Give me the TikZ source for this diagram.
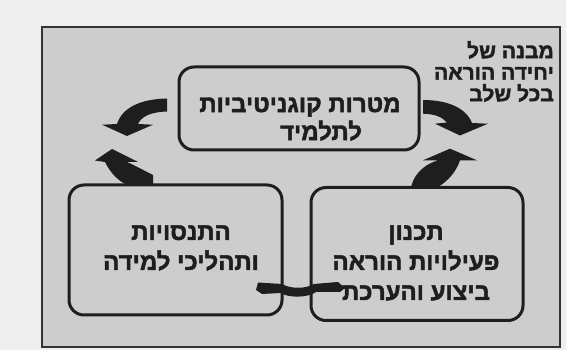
\documentclass[tikz,border=0pt]{standalone}
\usepackage{fontspec}
\newfontfamily\heb[Script=Hebrew, FakeBold=2]{Liberation Sans Bold}
\TeXXeTstate=1
\definecolor{pagebg}{HTML}{EEEEEE}
\definecolor{panelbg}{HTML}{CDCDCD}
\definecolor{ink}{HTML}{1E1E1E}
\definecolor{framecol}{HTML}{333333}
\tikzset{
  frame/.style={draw=framecol, line width=1.8pt, fill=panelbg, inner sep=0pt, outer sep=0pt},
  stagebox/.style={draw=ink, line width=3pt, rounded corners=15pt, inner sep=0pt, outer sep=0pt},
  stagetext/.style={text=ink, font=\heb\fontsize{24}{30}\selectfont, align=center, inner sep=0pt},
  notetext/.style={text=ink, font=\heb\fontsize{21}{21.5}\selectfont, align=right, inner sep=0pt},
  blockarrow/.style={fill=ink, draw=none},
}
\begin{document}
\begin{tikzpicture}[x=1pt,y=-1pt]
\fill[pagebg] (0,0) rectangle (566,350);
\useasboundingbox (0,0) rectangle (566,350);
\node[frame, minimum width=518pt, minimum height=320pt] (frame) at (301,187) {};
% stage boxes
\node[stagebox, minimum width=240pt, minimum height=83pt] (goals) at (299,108.5) {};
\node[stagebox, minimum width=213pt, minimum height=130pt] (learn) at (175.5,250) {};
\node[stagebox, minimum width=212pt, minimum height=133pt] (plan) at (417,254) {};
% texts
\node[stagetext, font=\heb\fontsize{24}{28}\selectfont] (goalsT) at (300,119) {\beginR מטרות קוגניטיביות\endR\\ \beginR לתלמיד\hspace{42pt}\endR};
\node[stagetext] (learnT) at (181,248) {\beginR התנסויות\endR\\ \beginR ותהליכי למידה\endR};
\node[stagetext] (planT) at (416,263) {\beginR תכנון\endR\\ \beginR פעילויות הוראה\endR\\ \beginR ביצוע והערכת\endR};
\node[notetext, anchor=east] (note) at (554,71.5) {\beginR מבנה של\endR\\ \beginR יחידה הוראה\endR\\ \beginR בכל שלב\endR};
% curved block arrows
\fill[blockarrow] (167,98.5) .. controls (140,99) and (122,108) .. (117,124) -- (102,124.7) -- (127,136) -- (153,124.7) -- (138,124) .. controls (141,117) and (150,112) .. (167,111.5) -- cycle;
\fill[blockarrow] (153,186) -- (153,175) .. controls (145,171) and (134,165) .. (127,162) -- (138,162) -- (112,149) -- (95,160.5) -- (105,162) .. controls (110,172) and (118,182) .. (130,186) -- cycle;
\fill[blockarrow] (423,100) .. controls (448,100) and (466,108) .. (472,123) -- (488,123.7) -- (460,135.5) -- (435,123.7) -- (447,122.5) .. controls (442,117) and (435,114) .. (423,113.7) -- cycle;
\fill[blockarrow] (411,187) -- (413,181) .. controls (418,170) and (428,163) .. (438,160.5) -- (423,160.3) -- (450,148.7) -- (477,160.3) -- (460,160.5) .. controls (456,172) and (448,181) .. (438,187) -- cycle;
% bottom connector band
\fill[blockarrow] (258,282.5) -- (282,284) .. controls (290,289) and (306,289) .. (314,284) -- (338,282) -- (345,288) -- (340,292) -- (316,292) .. controls (308,298) and (288,298) .. (281,293) -- (262,294) -- (256,290) -- cycle;
\end{tikzpicture}
\end{document}
